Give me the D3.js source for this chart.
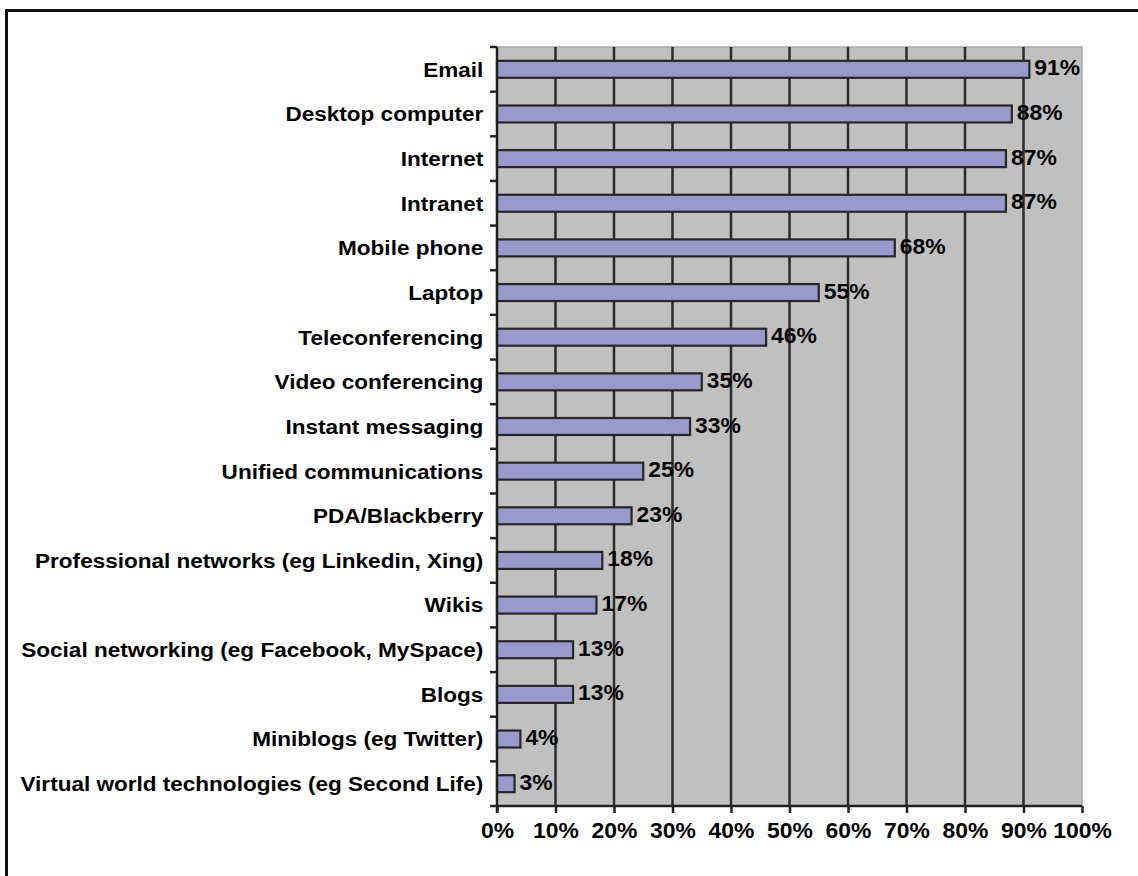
<!DOCTYPE html>
<html>
<head>
<meta charset="utf-8">
<script src="https://cdn.jsdelivr.net/npm/d3@7"></script>
<style>
  html, body { margin: 0; padding: 0; background: #fff; }
  svg text { font-family: Arial, "Liberation Sans", sans-serif; font-weight: bold; fill: #000; }
</style>
</head>
<body>
<svg id="chart" width="1138" height="876"></svg>
<script>
// Share of respondents using each workplace technology
const categories = [
  "Email", "Desktop computer", "Internet", "Intranet", "Mobile phone", "Laptop",
  "Teleconferencing", "Video conferencing", "Instant messaging", "Unified communications",
  "PDA/Blackberry", "Professional networks (eg Linkedin, Xing)", "Wikis",
  "Social networking (eg Facebook, MySpace)", "Blogs", "Miniblogs (eg Twitter)",
  "Virtual world technologies (eg Second Life)"
];
const values = [91, 88, 87, 87, 68, 55, 46, 35, 33, 25, 23, 18, 17, 13, 13, 4, 3];
const tickValues = [0, 10, 20, 30, 40, 50, 60, 70, 80, 90, 100];

const svg = d3.select("#chart");
const plot = { left: 497, right: 1082, top: 47, bottom: 806 };
const wide = 1.1;   // horizontal stretch of the lettering

const x = d3.scaleLinear().domain([0, 100]).range([plot.left, plot.right]);
const y = d3.scaleBand().domain(categories).range([plot.top, plot.bottom])
  .paddingInner(0.62).paddingOuter(0.31);

// outer frame (top and left edges)
svg.append("path")
  .attr("d", "M6.5,876 L6.5,10.5 L1138,10.5")
  .attr("fill", "none").attr("stroke", "#111").attr("stroke-width", 3);

// plot background
svg.append("rect")
  .attr("x", plot.left).attr("y", plot.top)
  .attr("width", plot.right - plot.left).attr("height", plot.bottom - plot.top)
  .attr("fill", "#c0c0c0").attr("stroke", "#a8a8a8").attr("stroke-width", 1.5);

// vertical gridlines
svg.append("g").selectAll("line")
  .data(tickValues.filter(v => v > 0 && v < 100))
  .join("line")
  .attr("x1", d => x(d)).attr("x2", d => x(d))
  .attr("y1", plot.top).attr("y2", plot.bottom)
  .attr("stroke", "#2b2b2b").attr("stroke-width", 2.5);

const rows = categories.map((c, i) => ({ c, v: values[i] }));

// bars
svg.append("g").selectAll("rect")
  .data(rows)
  .join("rect")
  .attr("x", x(0))
  .attr("y", d => y(d.c))
  .attr("width", d => x(d.v) - x(0))
  .attr("height", y.bandwidth())
  .attr("fill", "#9999cc")
  .attr("stroke", "#262626").attr("stroke-width", 2.2);

// value labels
svg.append("g").selectAll("text")
  .data(rows)
  .join("text")
  .attr("transform", d => `translate(${x(d.v) + 5},${y(d.c) + y.bandwidth() / 2 + 6}) scale(1.04,1)`)
  .attr("font-size", 22)
  .text(d => d.v + "%");

// left axis with labels
const yAxis = svg.append("g")
  .attr("transform", `translate(${plot.left},0)`)
  .call(d3.axisLeft(y).tickSize(0).tickPadding(12.5));
yAxis.select(".domain").remove();
yAxis.selectAll("text").attr("font-size", 20.5).attr("dy", "0.36em")
  .attr("transform", `scale(${wide},1)`);

// left axis line and category boundary ticks
const boundaries = d3.range(categories.length + 1).map(i => plot.top + i * y.step());
svg.append("line")
  .attr("x1", plot.left).attr("x2", plot.left)
  .attr("y1", plot.top).attr("y2", plot.bottom + 7)
  .attr("stroke", "#222").attr("stroke-width", 2.5);
svg.append("g").selectAll("line")
  .data(boundaries)
  .join("line")
  .attr("x1", plot.left - 7).attr("x2", plot.left)
  .attr("y1", d => d).attr("y2", d => d)
  .attr("stroke", "#222").attr("stroke-width", 2.5);

// bottom axis
const xAxis = svg.append("g")
  .attr("transform", `translate(0,${plot.bottom})`)
  .call(d3.axisBottom(x).tickValues(tickValues).tickSize(7).tickPadding(9)
    .tickFormat(d => d + "%"));
xAxis.select(".domain").attr("stroke", "#222").attr("stroke-width", 2.5)
  .attr("d", `M${plot.left},0H${plot.right}`);
xAxis.selectAll(".tick line").attr("stroke", "#222").attr("stroke-width", 2.5);
xAxis.selectAll("text").attr("font-size", 22).attr("transform", "scale(1.04,1)");
</script>
</body>
</html>
